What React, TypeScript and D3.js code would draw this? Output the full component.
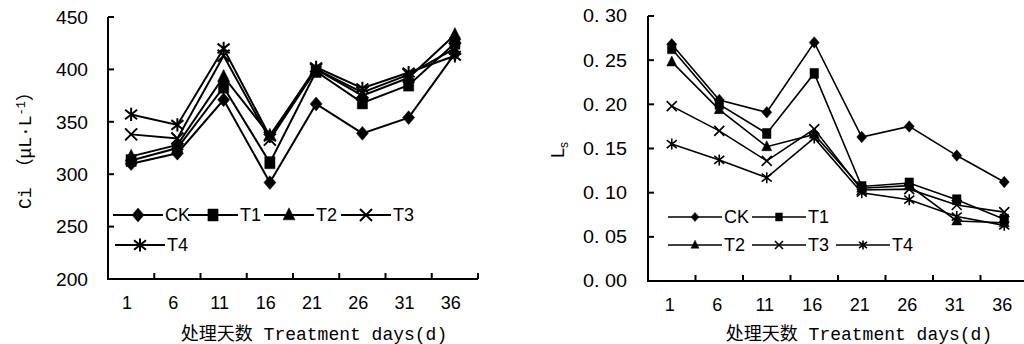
import React from 'react';
import * as d3 from 'd3';

const days = ['1', '6', '11', '16', '21', '26', '31', '36'];
const seriesNames = ['CK', 'T1', 'T2', 'T3', 'T4'];
const markerTypes = ['diamond', 'square', 'triangle', 'times', 'asterisk'];

// Ci (μL·L-1)
const ciCK = [310, 320, 371, 292, 367, 339, 354, 415];
const ciT1 = [313, 325, 383, 311, 398, 368, 385, 425];
const ciT2 = [317, 328, 393, 337, 400, 375, 392, 433];
const ciT3 = [338, 334, 413, 333, 400, 378, 395, 420];
const ciT4 = [357, 347, 420, 336, 402, 382, 397, 413];
const ciTicks = [200, 250, 300, 350, 400, 450];

// Ls
const lsCK = [0.268, 0.205, 0.191, 0.27, 0.163, 0.175, 0.142, 0.112];
const lsT1 = [0.263, 0.2, 0.167, 0.235, 0.107, 0.111, 0.092, 0.07];
const lsT2 = [0.248, 0.194, 0.152, 0.166, 0.105, 0.108, 0.068, 0.066];
const lsT3 = [0.198, 0.17, 0.136, 0.172, 0.103, 0.104, 0.086, 0.078];
const lsT4 = [0.155, 0.137, 0.117, 0.162, 0.1, 0.092, 0.073, 0.063];
const lsTicks = [0, 0.05, 0.1, 0.15, 0.2, 0.25, 0.3];

const markerPath = (type: string, s: number) => {
  switch (type) {
    case 'diamond':
      return `M0,${-s * 1.15}L${s},0L0,${s * 1.15}L${-s},0Z`;
    case 'square':
      return `M${-s * 0.85},${-s}H${s * 0.85}V${s}H${-s * 0.85}Z`;
    case 'triangle':
      return `M0,${-s * 1.2}L${s},${s * 0.8}L${-s},${s * 0.8}Z`;
    case 'times':
      return `M${-s},${-s}L${s},${s}M${-s},${s}L${s},${-s}`;
    default:
      return `M${-s},${-s * 0.8}L${s},${s * 0.8}M${-s},${s * 0.8}L${s},${-s * 0.8}M0,${-s * 1.1}L0,${s * 1.1}`;
  }
};

const Marker = ({ type, x, y, s, sw }: any) => {
  const filled = type === 'diamond' || type === 'square' || type === 'triangle';
  return (
    <path
      d={markerPath(type, s)}
      transform={`translate(${x},${y})`}
      fill={filled ? '#000' : 'none'}
      stroke="#000"
      strokeWidth={filled ? 0.5 : sw}
    />
  );
};

const Panel = ({ cfg }: any) => {
  const x = d3.scaleBand().domain(days).range([cfg.left, cfg.right]);
  const y = d3.scaleLinear().domain(cfg.domain).range([cfg.bottom, cfg.top]);
  const line = d3
    .line<number>()
    .x((_, i) => (x(days[i]) as number) + x.bandwidth() / 2)
    .y((d) => y(d));
  const boundaries = days.map((_, i) => cfg.left + x.step() * (i + 1));

  return (
    <g>
      {/* series */}
      {cfg.series.map((vals: number[], si: number) => (
        <g key={si}>
          <path d={line(vals) as string} fill="none" stroke="#000" strokeWidth={cfg.lw} />
          {vals.map((v, i) => (
            <Marker
              key={i}
              type={markerTypes[si]}
              x={(x(days[i]) as number) + x.bandwidth() / 2}
              y={y(v)}
              s={cfg.ms}
              sw={cfg.lw}
            />
          ))}
        </g>
      ))}

      {/* axes */}
      <path
        d={`M${cfg.left},${cfg.top}V${cfg.bottom}H${cfg.right}`}
        fill="none"
        stroke="#000"
        strokeWidth={cfg.aw}
      />
      {cfg.ticks.map((t: number) => (
        <g key={t}>
          <line x1={cfg.left} x2={cfg.left + 6} y1={y(t)} y2={y(t)} stroke="#000" strokeWidth={cfg.aw} />
          <text
            x={cfg.left - cfg.yLabGap}
            y={y(t)}
            dy="0.36em"
            textAnchor="end"
            fontFamily={cfg.yFont}
            fontSize={cfg.yFontSize}
            textLength={cfg.yLabLen}
            lengthAdjust="spacingAndGlyphs"
          >
            {cfg.fmt(t)}
          </text>
        </g>
      ))}
      {boundaries.map((b, i) => (
        <line key={i} x1={b} x2={b} y1={cfg.bottom} y2={cfg.bottom - 6} stroke="#000" strokeWidth={cfg.aw} />
      ))}
      {days.map((d) => (
        <text
          key={d}
          x={(x(d) as number) + x.bandwidth() / 2 + cfg.xdx}
          y={cfg.bottom + 30}
          textAnchor="middle"
          fontFamily="'Liberation Sans', Arial, sans-serif"
          fontSize={18}
        >
          {d}
        </text>
      ))}
      <text
        x={cfg.titleX}
        y={340}
        textAnchor="middle"
        fontFamily="'Liberation Mono', 'Noto Sans CJK SC', monospace"
        fontSize={18}
      >
        处理天数 Treatment days(d)
      </text>
      {cfg.yTitle}

      {/* legend */}
      {cfg.legend.map((it: any, i: number) => (
        <g key={i}>
          <line x1={it.x} x2={it.x + cfg.legW} y1={it.y} y2={it.y} stroke="#000" strokeWidth={cfg.lw} />
          <Marker type={markerTypes[i]} x={it.x + cfg.legW / 2} y={it.y} s={cfg.legMs} sw={cfg.lw} />
          <text
            x={it.x + cfg.legW + 2}
            y={it.y}
            dy="0.36em"
            fontFamily="'Liberation Sans Narrow', 'Liberation Sans', Arial, sans-serif"
            fontSize={18}
          >
            {seriesNames[i]}
          </text>
        </g>
      ))}
    </g>
  );
};

export default function App() {
  const leftCfg = {
    left: 108,
    right: 478,
    top: 17,
    bottom: 279,
    domain: [200, 450],
    ticks: ciTicks,
    fmt: (t: number) => String(t),
    yFont: "'Liberation Sans', Arial, sans-serif",
    yFontSize: 19,
    yLabGap: 20,
    yLabLen: 32,
    series: [ciCK, ciT1, ciT2, ciT3, ciT4],
    lw: 2,
    aw: 2,
    ms: 6,
    legMs: 6,
    legW: 50,
    xdx: -4,
    titleX: 314,
    legend: [
      { x: 113, y: 215 },
      { x: 188, y: 215 },
      { x: 264, y: 215 },
      { x: 341, y: 215 },
      { x: 115, y: 245 },
    ],
    yTitle: (
      <text
        transform="translate(31,146) rotate(-90)"
        textAnchor="middle"
        fontFamily="'Liberation Mono', 'Noto Sans CJK SC', monospace"
        fontSize={18}
      >
        Ci （μL·L
        <tspan dy={-6} fontSize={12}>-1</tspan>
        <tspan dy={6}>）</tspan>
      </text>
    ),
  };

  const rightCfg = {
    left: 648,
    right: 1028,
    top: 16,
    bottom: 281,
    domain: [0, 0.3],
    ticks: lsTicks,
    fmt: (t: number) => t.toFixed(2).replace('.', '. '),
    yFont: "'Liberation Sans', Arial, sans-serif",
    yFontSize: 18,
    yLabGap: 21,
    yLabLen: 44,
    series: [lsCK, lsT1, lsT2, lsT3, lsT4],
    lw: 1.6,
    aw: 2,
    ms: 5,
    legMs: 4,
    legW: 54,
    xdx: -2,
    titleX: 859,
    legend: [
      { x: 668, y: 217 },
      { x: 752, y: 217 },
      { x: 668, y: 245 },
      { x: 752, y: 245 },
      { x: 836, y: 245 },
    ],
    yTitle: (
      <text
        transform="translate(564,150) rotate(-90)"
        textAnchor="middle"
        fontFamily="'Liberation Sans', Arial, sans-serif"
        fontSize={18}
      >
        L<tspan dy={4} fontSize={12}>s</tspan>
      </text>
    ),
  };

  return (
    <div style={{ position: 'absolute', left: 0, top: 0 }}>
      <svg width={1024} height={344} style={{ display: 'block', background: '#fff' }}>
        <Panel cfg={leftCfg} />
        <Panel cfg={rightCfg} />
      </svg>
    </div>
  );
}
